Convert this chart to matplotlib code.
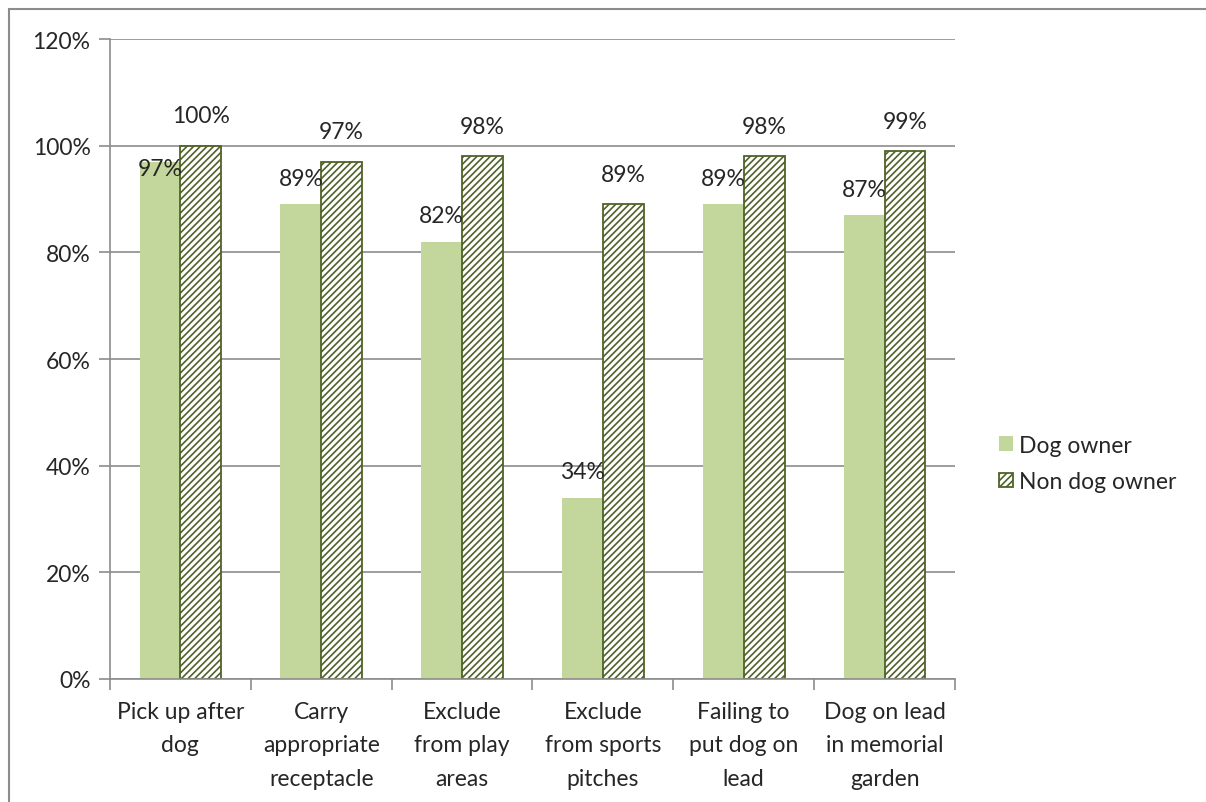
import numpy as np
import matplotlib.pyplot as plt
from matplotlib.patches import Rectangle

categories = ["Pick up after\ndog", "Carry\nappropriate\nreceptacle", "Exclude\nfrom play\nareas",
              "Exclude\nfrom sports\npitches", "Failing to\nput dog on\nlead", "Dog on lead\nin memorial\ngarden"]
dog_owner = [97, 89, 82, 34, 89, 87]
non_dog_owner = [100, 97, 98, 89, 98, 99]
yticks = [0, 20, 40, 60, 80, 100, 120]

plt.rcParams['font.family'] = ['Lato', 'DejaVu Sans']
plt.rcParams['hatch.linewidth'] = 1.2
plt.rcParams['hatch.color'] = '#4F6228'

FS = 16.5
TXT = '#262626'

fig = plt.figure(figsize=(12.06, 8.03), dpi=100)
ax = fig.add_axes([110 / 1206, 1 - 680 / 803, 845 / 1206, 640 / 803])

# outer chart border
fig.patches.append(Rectangle((9 / 1206, -0.1), 1.2, 1 - 10 / 803 + 0.1, transform=fig.transFigure,
                             fill=False, edgecolor='#8C8C8C', linewidth=1.5))

x = np.arange(len(categories))
w = 0.29
b1 = ax.bar(x - w / 2, dog_owner, w, color='#C3D69B', label='Dog owner', zorder=2)
b2 = ax.bar(x + w / 2, non_dog_owner, w, color='white', edgecolor='#4F6228', linewidth=1.3,
            hatch='/////', label='Non dog owner', zorder=2)

for i, r in enumerate(b1):
    off = -7 if i == 0 else 26
    ax.annotate(f"{dog_owner[i]}%", (r.get_x() + r.get_width() / 2, r.get_height()),
                xytext=(0, off), textcoords='offset pixels', ha='center', va='center',
                fontsize=FS, color=TXT, zorder=3)
for i, r in enumerate(b2):
    ax.annotate(f"{non_dog_owner[i]}%", (r.get_x() + r.get_width() / 2, r.get_height()),
                xytext=(0, 30), textcoords='offset pixels', ha='center', va='center',
                fontsize=FS, color=TXT, zorder=3)

ax.set_ylim(0, 120)
ax.set_xlim(-0.5, len(categories) - 0.5)
ax.set_yticks(yticks)
ax.set_yticklabels([f"{t}%" for t in yticks], fontsize=FS, color=TXT)
ax.yaxis.grid(True, color='#8C8C8C', linewidth=1.2, zorder=0)
ax.set_axisbelow(True)

ax.set_xticks(x)
ax.set_xticklabels(categories, fontsize=FS, color=TXT, linespacing=1.72)
ax.tick_params(axis='x', length=0, pad=16)
ax.set_xticks(np.arange(len(categories) + 1) - 0.5, minor=True)
ax.tick_params(axis='x', which='minor', length=8, color='#8C8C8C', width=1.2)
ax.tick_params(axis='y', length=8, color='#8C8C8C', width=1.2, pad=6)

for s in ['top', 'right']:
    ax.spines[s].set_visible(False)
for s in ['left', 'bottom']:
    ax.spines[s].set_color('#8C8C8C')
    ax.spines[s].set_linewidth(1.2)

ax.legend(loc='center left', bbox_to_anchor=(1.028, 0.337), frameon=False, fontsize=FS,
          handlelength=0.6, handleheight=0.6, handletextpad=0.25, labelspacing=0.68,
          labelcolor=TXT)

fig.savefig('out.png', dpi=100)
